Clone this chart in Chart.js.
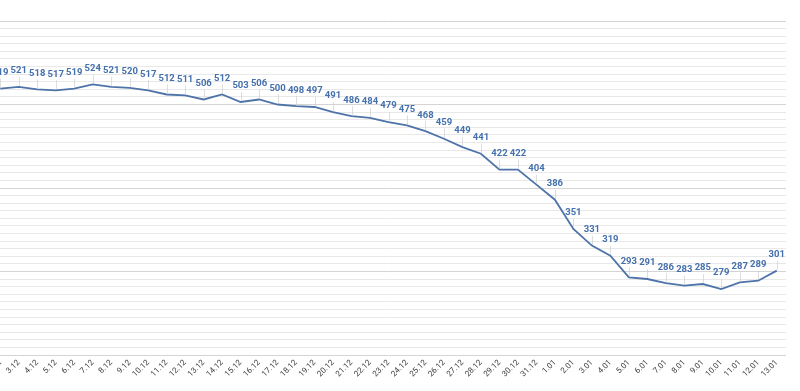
<!DOCTYPE html>
<html>
<head>
<meta charset="utf-8">
<script src="https://cdn.jsdelivr.net/npm/chart.js@4/dist/chart.umd.min.js"></script>
<style>
    html, body { margin: 0; padding: 0; background: #ffffff; overflow: hidden; }
    #wrap { position: absolute; left: -9px; top: 0; width: 795px; height: 391px; }
</style>
</head>
<body>
<div id="wrap"><canvas id="chart"></canvas></div>
<script>
// Chart data
const dateLabels = [
    '2.12', '3.12', '4.12', '5.12', '6.12', '7.12', '8.12', '9.12', '10.12', '11.12',
    '12.12', '13.12', '14.12', '15.12', '16.12', '17.12', '18.12', '19.12', '20.12', '21.12',
    '22.12', '23.12', '24.12', '25.12', '26.12', '27.12', '28.12', '29.12', '30.12', '31.12',
    '1.01', '2.01', '3.01', '4.01', '5.01', '6.01', '7.01', '8.01', '9.01', '10.01',
    '11.01', '12.01', '13.01'
];
const counts = [
    519, 521, 518, 517, 519, 524, 521, 520, 517, 512,
    511, 506, 512, 503, 506, 500, 498, 497, 491, 486,
    484, 479, 475, 468, 459, 449, 441, 422, 422, 404,
    386, 351, 331, 319, 293, 291, 286, 283, 285, 279,
    287, 289, 301
];
const majorTicks = [200, 300, 400, 500, 600];
const minorPerMajor = 11;

// Value labels above each point, with a faint leader line
const pointLabels = {
    id: 'pointLabels',
    afterDatasetsDraw(chart) {
        const ctx = chart.ctx;
        const meta = chart.getDatasetMeta(0);
        ctx.save();
        ctx.font = 'bold 9.5px Roboto, sans-serif';
        ctx.textAlign = 'center';
        ctx.textBaseline = 'middle';
        meta.data.forEach((pt, i) => {
            const ly = pt.y - 16;
            ctx.strokeStyle = 'rgba(200, 200, 200, 0.6)';
            ctx.lineWidth = 1;
            ctx.beginPath();
            ctx.moveTo(Math.round(pt.x) + 0.5, ly + 6);
            ctx.lineTo(Math.round(pt.x) + 0.5, pt.y - 1);
            ctx.stroke();
            ctx.fillStyle = '#4470ad';
            ctx.fillText(counts[i], pt.x, ly);
        });
        ctx.restore();
    }
};

const ctx = document.getElementById('chart').getContext('2d');
const chart = new Chart(ctx, {
    type: 'line',
    data: {
        labels: dateLabels,
        datasets: [{
            data: counts,
            borderColor: '#4e73a8',
            borderWidth: 1.8,
            pointRadius: 0,
            tension: 0,
            fill: false
        }]
    },
    options: {
        responsive: true,
        maintainAspectRatio: false,
        animation: false,
        layout: { padding: { top: 21, left: 0, right: 0, bottom: 0 } },
        plugins: {
            legend: { display: false },
            tooltip: { enabled: false }
        },
        scales: {
            x: {
                offset: true,
                grid: { display: false, drawTicks: false },
                border: { display: false },
                ticks: {
                    autoSkip: false,
                    maxRotation: 45,
                    minRotation: 45,
                    padding: 3,
                    color: '#3a3a3a',
                    font: { family: 'Roboto, sans-serif', size: 8 }
                },
                afterFit(scale) {
                    scale.height = 36;
                    scale.paddingLeft = 0;
                    scale.paddingRight = 0;
                }
            },
            y: {
                min: 200,
                max: 600,
                border: { display: false },
                ticks: { display: false },
                grid: {
                    drawTicks: false,
                    lineWidth: 1,
                    color: (c) => majorTicks.includes(Math.round(c.tick.value * 1000) / 1000) ? '#d4d4d4' : '#e8e8e8'
                },
                afterBuildTicks(scale) {
                    const ticks = [];
                    for (let m = 0; m < majorTicks.length; m++) {
                        ticks.push({ value: majorTicks[m] });
                        if (m < majorTicks.length - 1) {
                            const step = (majorTicks[m + 1] - majorTicks[m]) / minorPerMajor;
                            for (let k = 1; k < minorPerMajor; k++) {
                                ticks.push({ value: majorTicks[m] + k * step });
                            }
                        }
                    }
                    scale.ticks = ticks;
                },
                afterFit(scale) {
                    scale.width = 0;
                }
            }
        }
    },
    plugins: [pointLabels]
});
</script>
</body>
</html>
